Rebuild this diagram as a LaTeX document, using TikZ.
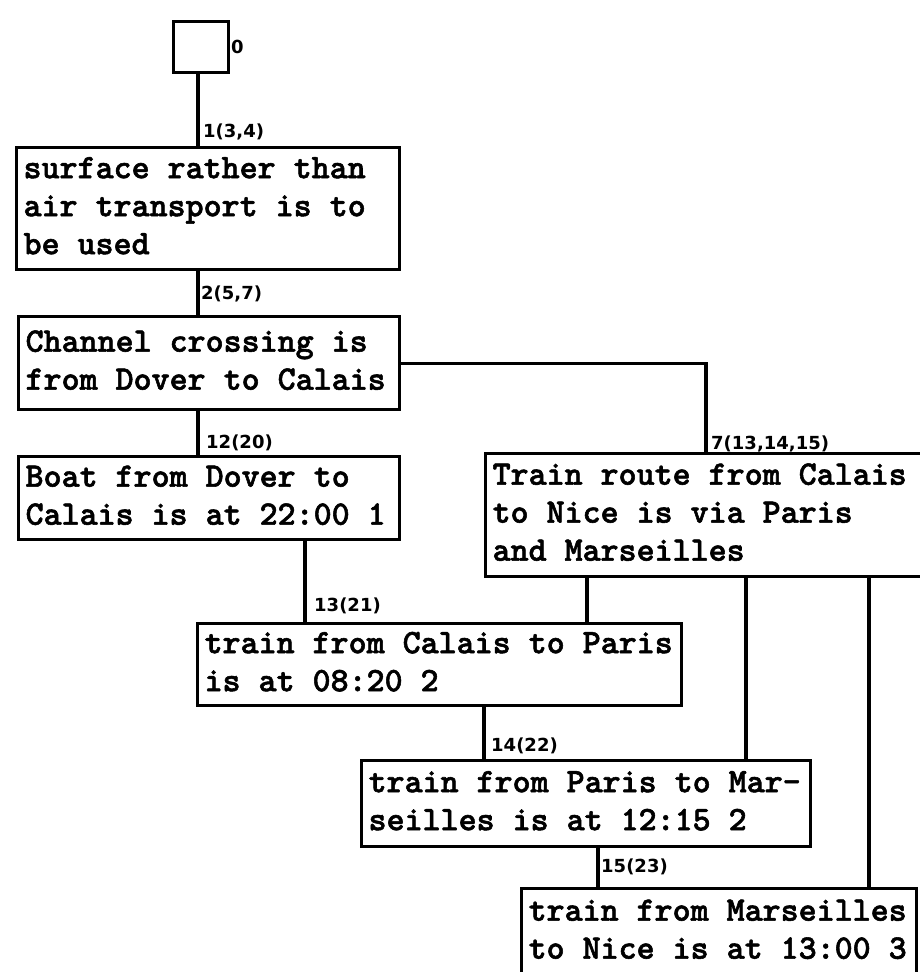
\documentclass[tikz,border=0pt]{standalone}
\usepackage{fontspec}
\newfontfamily\labfont{DejaVu Sans}
\newfontfamily\monobold{lmmonolt10-bold.otf}[FakeBold=1.6]
\newcommand\boxtextfont{\monobold\fontsize{34.3}{38}\selectfont}
\begin{document}
\begin{tikzpicture}[x=1pt,y=-1pt,
  box/.style={draw, line width=3.2pt, rectangle, anchor=north west,
    inner xsep=7pt, inner ysep=0pt, align=flush left,
    font=\boxtextfont,
    execute at begin node={\spaceskip=0.525em\relax\xspaceskip=0.525em\relax\strut},
    execute at end node=\strut},
  sq/.style={draw, line width=3.2pt, rectangle, anchor=north west, inner sep=0pt},
  lab/.style={anchor=base west, inner sep=0pt,
    font=\labfont\bfseries\fontsize{18}{20}\selectfont},
  conn/.style={line width=3.2pt}]
\clip (0,0) rectangle (920,972);
\useasboundingbox (0,0) rectangle (920,972);
\fill[white] (0,0) rectangle (920,972);

% boxes
\node[sq, minimum width=55pt, minimum height=51pt] (S) at (172,20) {};
\node[box, minimum width=383pt, minimum height=122pt, text width=369pt] (B1) at (15,146)
  {surface rather than\\air transport is to\\be used};
\node[box, minimum width=381pt, minimum height=93pt, text width=367pt] (B2) at (17,315)
  {Channel crossing is\\from Dover to Calais};
\node[box, minimum width=381pt, minimum height=83pt, text width=367pt] (B3) at (17,455)
  {Boat from Dover to\\Calais is at 22:00 1};
\node[box, minimum width=441pt, minimum height=123pt, text width=427pt] (BT) at (484,452)
  {Train route from Calais\\to Nice is via Paris\\and Marseilles};
\node[box, minimum width=484pt, minimum height=82pt, text width=470pt] (B4) at (196,622)
  {train from Calais to Paris\\is at 08:20 2};
\node[box, minimum width=449pt, minimum height=86pt, text width=435pt] (B5) at (360,759)
  {train from Paris to Mar-\\seilles is at 12:15 2};
\node[box, minimum width=395pt, minimum height=87pt, text width=381pt] (B6) at (520,887)
  {train from Marseilles\\to Nice is at 13:00 3};

% connector x positions
\coordinate (xa) at (198,0);
\coordinate (xb) at (305,0);
\coordinate (xc) at (706,0);
\coordinate (xd) at (587,0);
\coordinate (xe) at (484,0);
\coordinate (xf) at (746,0);
\coordinate (xg) at (598,0);
\coordinate (xh) at (869,0);

\draw[conn] (S.south -| xa) -- (B1.north -| xa);
\draw[conn] (B1.south -| xa) -- (B2.north -| xa);
\draw[conn] (B2.south -| xa) -- (B3.north -| xa);
\draw[conn] (B2.east) -| (BT.north -| xc);
\draw[conn] (B3.south -| xb) -- (B4.north -| xb);
\draw[conn] (BT.south -| xd) -- (B4.north -| xd);
\draw[conn] (B4.south -| xe) -- (B5.north -| xe);
\draw[conn] (BT.south -| xf) -- (B5.north -| xf);
\draw[conn] (B5.south -| xg) -- (B6.north -| xg);
\draw[conn] (BT.south -| xh) -- (B6.north -| xh);

% labels
\node[lab] (l0) at (231,53) {0};
\node[lab] (l1) at (203,137) {1(3,4)};
\node[lab] (l2) at (201,299) {2(5,7)};
\node[lab] (l12) at (206,448) {12(20)};
\node[lab] (l7) at (711,449) {7(13,14,15)};
\node[lab] (l13) at (314,611) {13(21)};
\node[lab] (l14) at (491,751) {14(22)};
\node[lab] (l15) at (601,872) {15(23)};
\end{tikzpicture}
\end{document}
